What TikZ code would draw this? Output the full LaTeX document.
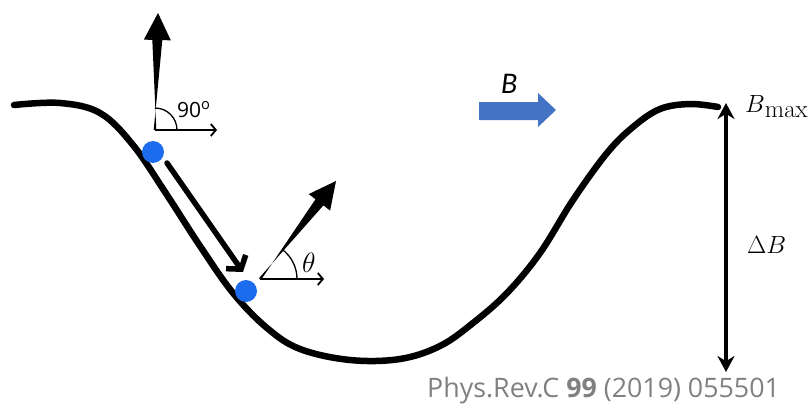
\documentclass[tikz,border=0pt]{standalone}
\usepackage{fontspec}
\usepackage{tikz}
\usetikzlibrary{positioning, arrows.meta, calc}
\newfontfamily\labelsans{Open Sans}
\newfontfamily\calsans{Carlito}
\definecolor{dotblue}{RGB}{30,108,238}
\definecolor{fieldblue}{RGB}{68,114,196}
\definecolor{citegray}{RGB}{128,128,128}
\tikzset{
  % --- the well and the particle ---
  welltrack/.style={line width=6.5pt, line cap=round, line join=round},
  particle/.style={circle, fill=dotblue, minimum size=22pt, inner sep=0pt},
  % --- arrows and angles ---
  thinaxis/.style={line width=1.8pt, -{Straight Barb[length=5pt, width=12pt]}},
  anglearc/.style={line width=1.3pt},
  slidearrow/.style={line width=5.5pt, line cap=round,
    -{Straight Barb[length=9pt, width=24pt]}},
  spanarrow/.style={line width=4.5pt,
    {Stealth[length=16pt, width=17pt]}-{Stealth[length=16pt, width=17pt]}},
  fieldarrow/.style={fill=fieldblue},
  % --- labels ---
  mathlabel/.style={font=\fontsize{25}{28}\selectfont, inner sep=0pt},
  anglelabel/.style={font=\labelsans\fontsize{21}{24}\selectfont, inner sep=0pt},
  fieldlabel/.style={font=\calsans\itshape\fontsize{30}{32}\selectfont, inner sep=0pt},
  citelabel/.style={font=\labelsans\fontsize{26.8}{30}\selectfont, text=citegray, inner sep=0pt},
}
% tapered momentum arrow: from #1 to #2
\newcommand{\fatarrow}[2]{%
  \coordinate (fa-h) at ($(#2)!27pt!(#1)$);
  \fill ($(#1)!1.3pt!90:(#2)$) -- ($(fa-h)!5pt!-90:(#2)$)
    -- ($(fa-h)!13.5pt!-90:(#2)$) -- (#2) -- ($(fa-h)!13.5pt!90:(#2)$)
    -- ($(fa-h)!5pt!90:(#2)$) -- ($(#1)!1.3pt!-90:(#2)$) -- cycle;}

\begin{document}
\begin{tikzpicture}[x=1pt, y=-1pt]
    \useasboundingbox (0,0) rectangle (812,415);

    % ---- Magnetic well ----
    \draw[welltrack] plot[smooth, tension=0.6] coordinates {
      (14,105) (60,103) (100,113) (133,145) (167,195) (200,246) (233,293)
      (267,328) (300,349) (350,360) (400,359) (440,346) (473,323) (507,293)
      (540,253) (573,200) (607,153) (633,127) (660,109) (690,104) (718,107)};

    % ---- Particle at the top: pitch angle 90 ----
    \node[particle] (ball1) at (153,152) {};
    \coordinate (o1) at (155,130);
    \coordinate (o1x) at (217,130);
    \coordinate (o1p) at (158,13);
    \draw[thinaxis] (o1) -- (o1x);
    \draw[anglearc] ($(o1)+(22,0)$) arc[start angle=0, end angle=-90, radius=22];
    \fatarrow{o1}{o1p}
    \node[anglelabel, anchor=base west] (deg) at (177,117) {90\textsuperscript{o}};

    % ---- Slide down the slope ----
    \coordinate (s0) at (167,163);
    \coordinate (s1) at (243,272);
    \draw[slidearrow] (s0) -- (s1);

    % ---- Particle lower down: pitch angle theta ----
    \node[particle] (ball2) at (246,291) {};
    \coordinate (o2) at (260,279);
    \coordinate (o2x) at (324,279);
    \coordinate (o2p) at (336,181);
    \draw[thinaxis] (o2) -- (o2x);
    \draw[anglearc] ($(o2)+(37,0)$) arc[start angle=0, end angle=-52, radius=37];
    \fatarrow{o2}{o2p}
    \node[mathlabel, anchor=base west] (theta) at (302,272) {\scalebox{1.12}{$\theta$}};

    % ---- Field direction ----
    \fill[fieldarrow] (479,102) -- (538,102) -- (538,93) -- (556,110)
      -- (538,127) -- (538,120) -- (479,120) -- cycle;
    \node[fieldlabel, anchor=base west] (field) at (501,93) {B};

    % ---- Depth of the well ----
    \coordinate (top) at (726,103);
    \coordinate (bot) at (726,372);
    \draw[spanarrow] (top) -- (bot);
    \node[mathlabel, anchor=base west] (bmax) at (745,112)
      {$B$\raisebox{-5pt}{\fontsize{25}{26}\selectfont max}};
    \node[mathlabel, anchor=base west] (dB) at (747,253) {$\Delta B$};

    % ---- Reference ----
    \node[citelabel, anchor=base west] (cite) at (427,397)
      {Phys.Rev.C \textbf{99} (2019) 055501};
  \end{tikzpicture}
\end{document}
